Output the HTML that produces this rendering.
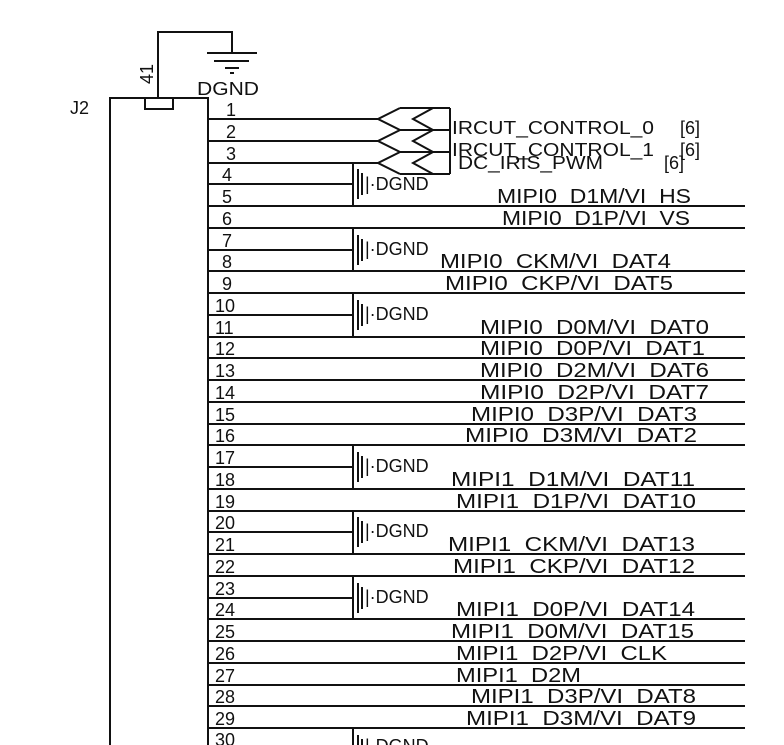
<!DOCTYPE html>
<html><head><meta charset="utf-8"><style>
html,body{margin:0;padding:0;background:#fff;width:784px;height:745px;overflow:hidden}
svg{display:block}
text{font-family:"Liberation Sans",sans-serif;fill:#111}
</style></head><body>
<svg width="784" height="745" viewBox="0 0 784 745" xmlns="http://www.w3.org/2000/svg">
<g stroke="#111" stroke-width="2" fill="none">
<polyline points="110,745 110,98 208,98 208,745"/>
<rect x="145" y="98" width="28" height="11"/>
<polyline points="158,98 158,32 232,32 232,53"/>
<line x1="207" y1="53" x2="257" y2="53"/>
<line x1="214" y1="61" x2="249" y2="61"/>
<line x1="225" y1="68" x2="239" y2="68"/>
<line x1="230" y1="73" x2="234" y2="73"/>
<line x1="208" y1="119" x2="378" y2="119"/>
<line x1="208" y1="141" x2="378" y2="141"/>
<line x1="208" y1="163" x2="378" y2="163"/>
<polyline points="400,108 378,119 400,130 378,141 400,152 378,163 400,174"/>
<polyline points="433,108 413,119 433,130 413,141 433,152 413,163 433,174"/>
<line x1="400" y1="108" x2="450" y2="108"/>
<line x1="400" y1="130" x2="450" y2="130"/>
<line x1="400" y1="152" x2="450" y2="152"/>
<line x1="400" y1="174" x2="450" y2="174"/>
<line x1="450" y1="108" x2="450" y2="174"/>
<line x1="208" y1="184" x2="353" y2="184"/>
<line x1="208" y1="250" x2="353" y2="250"/>
<line x1="208" y1="315" x2="353" y2="315"/>
<line x1="208" y1="467" x2="353" y2="467"/>
<line x1="208" y1="532" x2="353" y2="532"/>
<line x1="208" y1="598" x2="353" y2="598"/>
<line x1="353" y1="163" x2="353" y2="206"/>
<line x1="353" y1="228" x2="353" y2="271"/>
<line x1="353" y1="293" x2="353" y2="337"/>
<line x1="353" y1="445" x2="353" y2="489"/>
<line x1="353" y1="511" x2="353" y2="554"/>
<line x1="353" y1="576" x2="353" y2="619"/>
<line x1="353" y1="728" x2="353" y2="745"/>
<line x1="208" y1="206" x2="745" y2="206"/>
<line x1="208" y1="228" x2="745" y2="228"/>
<line x1="208" y1="271" x2="745" y2="271"/>
<line x1="208" y1="293" x2="745" y2="293"/>
<line x1="208" y1="337" x2="745" y2="337"/>
<line x1="208" y1="358" x2="745" y2="358"/>
<line x1="208" y1="380" x2="745" y2="380"/>
<line x1="208" y1="402" x2="745" y2="402"/>
<line x1="208" y1="424" x2="745" y2="424"/>
<line x1="208" y1="445" x2="745" y2="445"/>
<line x1="208" y1="489" x2="745" y2="489"/>
<line x1="208" y1="511" x2="745" y2="511"/>
<line x1="208" y1="554" x2="745" y2="554"/>
<line x1="208" y1="576" x2="745" y2="576"/>
<line x1="208" y1="619" x2="745" y2="619"/>
<line x1="208" y1="641" x2="745" y2="641"/>
<line x1="208" y1="663" x2="745" y2="663"/>
<line x1="208" y1="685" x2="745" y2="685"/>
<line x1="208" y1="706" x2="745" y2="706"/>
<line x1="208" y1="728" x2="745" y2="728"/>
<path d="M358,169V199M362,173V195"/>
<path d="M358,235V265M362,239V261"/>
<path d="M358,300V330M362,304V326"/>
<path d="M358,452V482M362,456V478"/>
<path d="M358,517V547M362,521V543"/>
<path d="M358,583V613M362,587V609"/>
<path d="M358,735V745M362,739V745"/>
</g>
<g font-size="18">
<text x="70" y="114">J2</text>
<text x="197" y="95" textLength="62" lengthAdjust="spacingAndGlyphs">DGND</text>
<text transform="translate(153,84) rotate(-90)">41</text>
<text x="226" y="116">1</text><text x="226" y="138">2</text><text x="226" y="160">3</text>
<text x="222" y="181">4</text><text x="222" y="203">5</text><text x="222" y="225">6</text>
<text x="222" y="247">7</text><text x="222" y="268">8</text><text x="222" y="290">9</text>
<text x="215" y="312">10</text><text x="215" y="334">11</text><text x="215" y="355">12</text>
<text x="215" y="377">13</text><text x="215" y="399">14</text><text x="215" y="421">15</text>
<text x="215" y="442">16</text><text x="215" y="464">17</text><text x="215" y="486">18</text>
<text x="215" y="508">19</text><text x="215" y="529">20</text><text x="215" y="551">21</text>
<text x="215" y="573">22</text><text x="215" y="595">23</text><text x="215" y="616">24</text>
<text x="215" y="638">25</text><text x="215" y="660">26</text><text x="215" y="682">27</text>
<text x="215" y="703">28</text><text x="215" y="725">29</text><text x="215" y="746">30</text>
<text x="365" y="190">|·DGND</text>
<text x="365" y="255">|·DGND</text>
<text x="365" y="320">|·DGND</text>
<text x="365" y="472">|·DGND</text>
<text x="365" y="537">|·DGND</text>
<text x="365" y="603">|·DGND</text>
<text x="365" y="752">|·DGND</text>
<text x="452" y="134" textLength="202" lengthAdjust="spacingAndGlyphs">IRCUT_CONTROL_0</text>
<text x="680" y="134">[6]</text>
<text x="452" y="156" textLength="202" lengthAdjust="spacingAndGlyphs">IRCUT_CONTROL_1</text>
<text x="680" y="156">[6]</text>
<text x="458" y="169" textLength="145" lengthAdjust="spacingAndGlyphs">DC_IRIS_PWM</text>
<text x="664" y="169">[6]</text>
</g>
<g font-size="20">
<text x="497" y="203" textLength="194" lengthAdjust="spacingAndGlyphs">MIPI0_D1M/VI_HS</text>
<text x="502" y="225" textLength="188" lengthAdjust="spacingAndGlyphs">MIPI0_D1P/VI_VS</text>
<text x="440" y="268" textLength="231" lengthAdjust="spacingAndGlyphs">MIPI0_CKM/VI_DAT4</text>
<text x="445" y="290" textLength="228" lengthAdjust="spacingAndGlyphs">MIPI0_CKP/VI_DAT5</text>
<text x="480" y="334" textLength="229" lengthAdjust="spacingAndGlyphs">MIPI0_D0M/VI_DAT0</text>
<text x="480" y="355" textLength="225" lengthAdjust="spacingAndGlyphs">MIPI0_D0P/VI_DAT1</text>
<text x="480" y="377" textLength="229" lengthAdjust="spacingAndGlyphs">MIPI0_D2M/VI_DAT6</text>
<text x="480" y="399" textLength="229" lengthAdjust="spacingAndGlyphs">MIPI0_D2P/VI_DAT7</text>
<text x="471" y="421" textLength="226" lengthAdjust="spacingAndGlyphs">MIPI0_D3P/VI_DAT3</text>
<text x="465" y="442" textLength="232" lengthAdjust="spacingAndGlyphs">MIPI0_D3M/VI_DAT2</text>
<text x="451" y="486" textLength="244" lengthAdjust="spacingAndGlyphs">MIPI1_D1M/VI_DAT11</text>
<text x="456" y="508" textLength="240" lengthAdjust="spacingAndGlyphs">MIPI1_D1P/VI_DAT10</text>
<text x="448" y="551" textLength="247" lengthAdjust="spacingAndGlyphs">MIPI1_CKM/VI_DAT13</text>
<text x="453" y="573" textLength="242" lengthAdjust="spacingAndGlyphs">MIPI1_CKP/VI_DAT12</text>
<text x="456" y="616" textLength="239" lengthAdjust="spacingAndGlyphs">MIPI1_D0P/VI_DAT14</text>
<text x="451" y="638" textLength="243" lengthAdjust="spacingAndGlyphs">MIPI1_D0M/VI_DAT15</text>
<text x="456" y="660" textLength="211" lengthAdjust="spacingAndGlyphs">MIPI1_D2P/VI_CLK</text>
<text x="456" y="682" textLength="125" lengthAdjust="spacingAndGlyphs">MIPI1_D2M</text>
<text x="471" y="703" textLength="225" lengthAdjust="spacingAndGlyphs">MIPI1_D3P/VI_DAT8</text>
<text x="466" y="725" textLength="230" lengthAdjust="spacingAndGlyphs">MIPI1_D3M/VI_DAT9</text>
</g>
</svg>
</body></html>
